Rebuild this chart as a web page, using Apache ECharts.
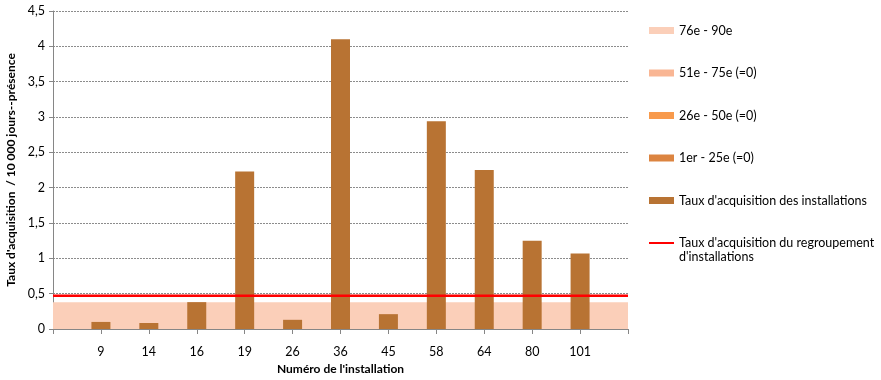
<!DOCTYPE html>
<html>
<head>
<meta charset="utf-8">
<script src="https://cdn.jsdelivr.net/npm/echarts@6/dist/echarts.min.js"></script>
<style>html,body{margin:0;padding:0;background:#fff}#c{width:881px;height:380px}</style>
</head>
<body>
<div id="c"></div>
<script>
const categories = ['', '9', '14', '16', '19', '26', '36', '45', '58', '64', '80', '101', ''];
const ratesInstallations = [null, 0.10, 0.085, 0.38, 2.23, 0.13, 4.10, 0.21, 2.94, 2.25, 1.25, 1.07, null];
const band1to25 = [0,0,0,0,0,0,0,0,0,0,0,0,0];
const band26to50 = [0,0,0,0,0,0,0,0,0,0,0,0,0];
const band51to75 = [0,0,0,0,0,0,0,0,0,0,0,0,0];
const band76to90 = [0.38,0.38,0.38,0.38,0.38,0.38,0.38,0.38,0.38,0.38,0.38,0.38,0.38];
const groupRate = [0.47,0.47,0.47,0.47,0.47,0.47,0.47,0.47,0.47,0.47,0.47,0.47,0.47];
const yTicks = [0, 0.5, 1, 1.5, 2, 2.5, 3, 3.5, 4, 4.5];

const FONT = 'Lato';
const chart = echarts.init(document.getElementById('c'), null, {renderer: 'canvas'});

function areaSeries(name, data, color, z) {
  return {
    name, type: 'line', data, stack: 'bands', symbol: 'none', z,
    lineStyle: {width: 0, color},
    itemStyle: {color},
    areaStyle: {color, opacity: 1},
    emphasis: {disabled: true}
  };
}

chart.setOption({
  animation: false,
  textStyle: {fontFamily: FONT},
  grid: {left: 53, right: 253, top: 11, bottom: 51, containLabel: false, outerBoundsMode: 'none'},
  legend: {
    orient: 'vertical', left: 649, top: 24, padding: 0,
    itemWidth: 25, itemHeight: 7, itemGap: 29.5,
    textStyle: {fontFamily: FONT, fontSize: 12.5, color: '#000'},
    data: [
      {name: '76e - 90e', icon: 'rect'},
      {name: '51e - 75e (=0)', icon: 'rect'},
      {name: '26e - 50e (=0)', icon: 'rect'},
      {name: '1er - 25e (=0)', icon: 'rect'},
      {name: "Taux d'acquisition des installations", icon: 'rect'},
      {name: "Taux d'acquisition du regroupement", icon: 'path://M0,0H25V2H0Z'}
    ],
    selectedMode: false
  },
  graphic: [{
    type: 'text', left: 679, top: 250,
    style: {text: "d'installations", fontFamily: FONT, fontSize: 12.5, fill: '#000'}
  }],
  xAxis: {
    type: 'category', data: categories, boundaryGap: false,
    name: "Numéro de l'installation", nameLocation: 'middle', nameGap: 34,
    nameTextStyle: {fontFamily: FONT, fontSize: 12, fontWeight: 'bold', color: '#000'},
    axisLine: {lineStyle: {color: '#868686', width: 1}},
    axisTick: {show: true, length: 5, lineStyle: {color: '#868686'}},
    axisLabel: {fontFamily: FONT, fontSize: 12.5, color: '#000', margin: 16, interval: 0},
    splitLine: {show: false}
  },
  yAxis: {
    type: 'value', min: 0, max: 4.5, interval: 0.5,
    name: "Taux d'acquisition  / 10 000 jours--présence", nameLocation: 'middle', nameGap: 34,
    nameTextStyle: {fontFamily: FONT, fontSize: 12, fontWeight: 'bold', color: '#000'},
    axisLine: {show: true, lineStyle: {color: '#868686', width: 1}},
    axisTick: {show: true, length: 4, lineStyle: {color: '#868686'}},
    axisLabel: {
      fontFamily: FONT, fontSize: 12.5, color: '#000', margin: 8,
      formatter: v => { const t = yTicks.find(x => Math.abs(x - v) < 1e-9); return String(t !== undefined ? t : v).replace('.', ','); }
    },
    splitLine: {show: true, lineStyle: {color: '#8c8c8c', type: [2, 1], width: 1}}
  },
  series: [
    areaSeries('1er - 25e (=0)', band1to25, '#DC8440', 1),
    areaSeries('26e - 50e (=0)', band26to50, '#F89A4C', 1),
    areaSeries('51e - 75e (=0)', band51to75, '#F9B694', 1),
    areaSeries('76e - 90e', band76to90, '#FBCFB9', 1),
    {
      name: "Taux d'acquisition des installations", type: 'bar', data: ratesInstallations,
      barWidth: 19, z: 3, itemStyle: {color: '#B87333'}, emphasis: {disabled: true}
    },
    {
      name: "Taux d'acquisition du regroupement", type: 'line', data: groupRate,
      symbol: 'none', z: 4, lineStyle: {color: '#FF0000', width: 2.5}, itemStyle: {color: '#FF0000'},
      emphasis: {disabled: true}
    }
  ]
});
</script>
</body>
</html>
